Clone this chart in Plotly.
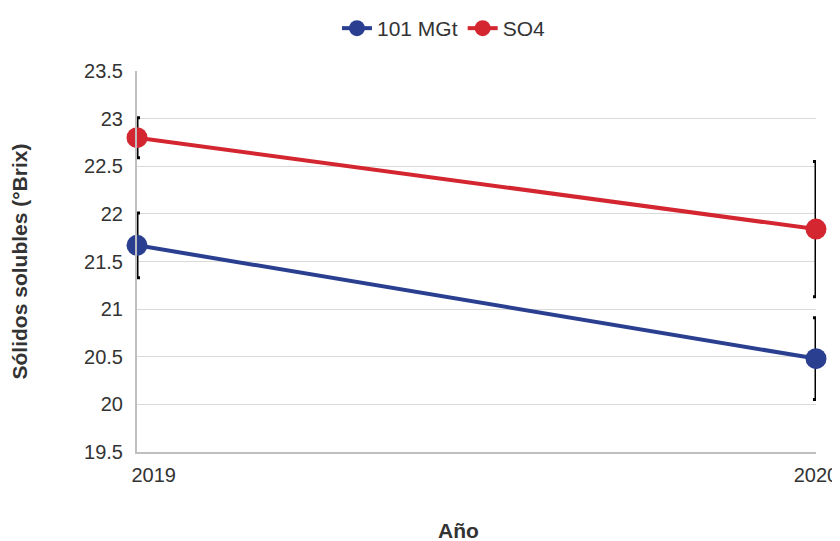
import plotly.graph_objects as go

years = [2019, 2020]
year_labels = ["&nbsp;&nbsp;&nbsp;&nbsp;&nbsp;&nbsp;2019", "2020"]
series_names = ["101 MGt", "SO4"]
mgt_values = [21.67, 20.48]
mgt_errors = [0.34, 0.43]
so4_values = [22.80, 21.84]
so4_errors = [0.21, 0.71]
y_ticks = [19.5, 20, 20.5, 21, 21.5, 22, 22.5, 23, 23.5]
y_tick_labels = ["19.5", "20", "20.5", "21", "21.5", "22", "22.5", "23", "23.5"]

TICK_FONT = "Liberation Sans, Arial, sans-serif"
TITLE_FONT = "Liberation Sans Narrow, Arial Narrow, sans-serif"
TXT = "#333333"

fig = go.Figure()
for name, vals, errs, color in [
    (series_names[0], mgt_values, mgt_errors, "#2A3F90"),
    (series_names[1], so4_values, so4_errors, "#D42630"),
]:
    fig.add_trace(go.Scatter(
        x=years, y=vals, name=name, mode="lines+markers",
        line=dict(color=color, width=4),
        marker=dict(color=color, size=21),
        error_y=dict(type="data", array=errs, visible=True,
                     color="black", thickness=3, width=3),
        cliponaxis=False,
    ))

# page body has an 8px margin, so the figure is 8px smaller and shifted
fig.update_layout(
    width=832, height=533,
    margin=dict(l=129, r=24, t=63, b=89, autoexpand=False),
    paper_bgcolor="white", plot_bgcolor="white",
    font=dict(family=TICK_FONT, size=20, color=TXT),
    legend=dict(orientation="h", x=0.524, xanchor="center", xref="container",
                y=1.0, yanchor="top", yref="container",
                font=dict(family=TICK_FONT, size=21, color=TXT),
                tracegroupgap=0),
    xaxis=dict(
        range=[2019, 2020], tickvals=years, ticktext=year_labels,
        showgrid=True, gridcolor="#D9D9D9", gridwidth=1,
        showline=True, linecolor="#BFBFBF", linewidth=2, ticks="",
        zeroline=False, automargin=False, ticklabelstandoff=4,
        tickfont=dict(family=TICK_FONT, size=20, color=TXT),
    ),
    yaxis=dict(
        range=[19.5, 23.5], tickvals=y_ticks, ticktext=y_tick_labels,
        showgrid=True, gridcolor="#D9D9D9", gridwidth=1,
        showline=True, linecolor="#BFBFBF", linewidth=2, ticks="",
        zeroline=False, automargin=False, ticklabelstandoff=8,
        tickfont=dict(family=TICK_FONT, size=20, color=TXT),
        title=dict(text="<b>Sólidos solubles (°Brix)</b>", font=dict(family=TITLE_FONT, size=21, color=TXT), standoff=55),
    ),
    annotations=[dict(
        text="<b>Año</b>", xref="paper", yref="paper", x=-0.027, y=0,
        xanchor="center", yanchor="middle", showarrow=False,
        font=dict(family=TITLE_FONT, size=21, color=TXT),
    )],
)
# position the x title annotation in pixels relative to the plot area
fig.layout.annotations[0].update(x=(450 - 129) / 679, y=-(522 - 444) / 381)

fig.write_html("out.html")
